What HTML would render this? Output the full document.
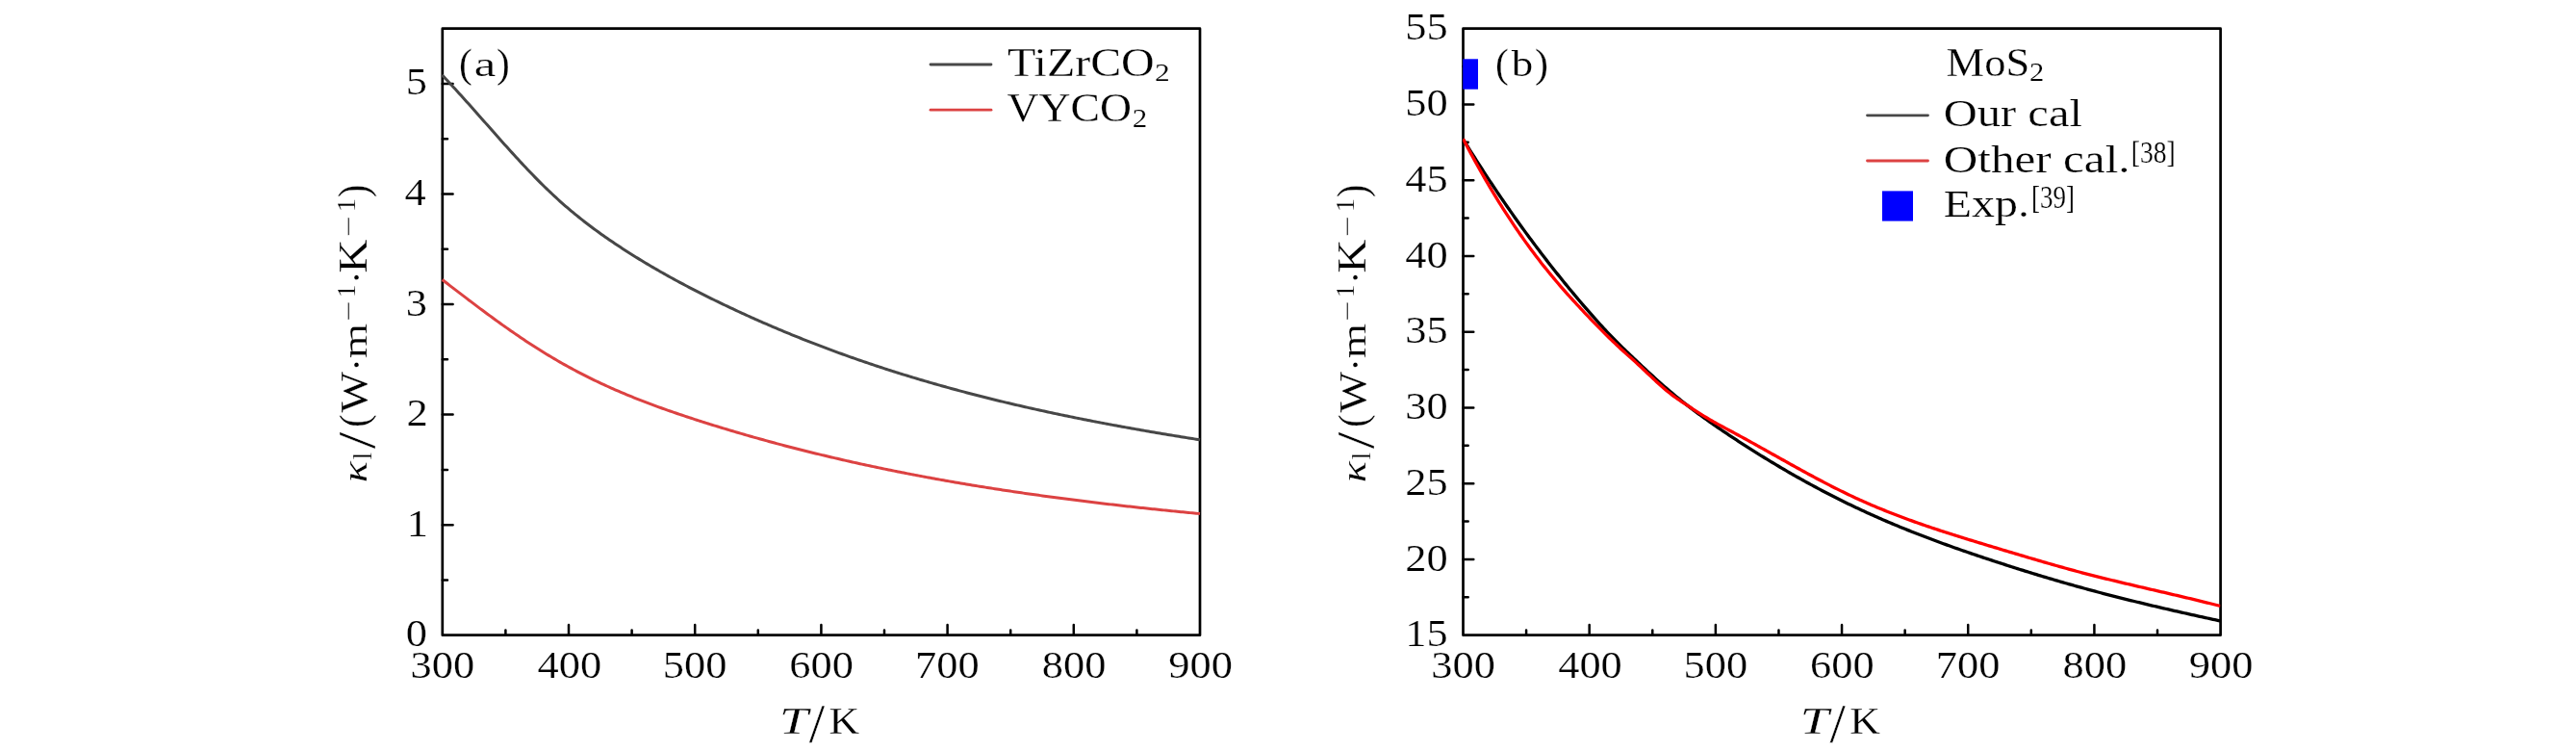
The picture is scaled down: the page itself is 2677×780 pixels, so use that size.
<!DOCTYPE html>
<html><head><meta charset="utf-8"><style>
html,body{margin:0;padding:0;background:#fff;overflow:hidden;width:2677px;height:780px;}
svg{display:block;will-change:transform;}
.t{font-family:"Liberation Serif", serif;font-size:40px;fill:#000;stroke:#fff;stroke-width:0.25px;}
</style></head><body>
<svg width="2677" height="780" viewBox="0 0 2677 780">
<rect width="100%" height="100%" fill="#fff"/>
<defs><clipPath id="cb"><rect x="1520.20" y="29.70" width="787.10" height="630.00"/></clipPath></defs>
<rect x="459.8" y="29.7" width="787.20" height="630.00" fill="none" stroke="#000" stroke-width="2.7" stroke-linejoin="round"/>
<path d="M525.40,659.7v-5.2M591.00,659.7v-10.8M656.60,659.7v-5.2M722.20,659.7v-10.8M787.80,659.7v-5.2M853.40,659.7v-10.8M919.00,659.7v-5.2M984.60,659.7v-10.8M1050.20,659.7v-5.2M1115.80,659.7v-10.8M1181.40,659.7v-5.2" stroke="#000" stroke-width="2.5" stroke-linecap="round" fill="none"/>
<text transform="translate(426.58,704.31) scale(1.1115,0.9798)" class="t">300</text>
<text transform="translate(558.47,704.31) scale(1.1115,0.9798)" class="t">400</text>
<text transform="translate(688.84,704.31) scale(1.1115,0.9798)" class="t">500</text>
<text transform="translate(820.32,704.31) scale(1.1115,0.9798)" class="t">600</text>
<text transform="translate(951.10,704.31) scale(1.1115,0.9798)" class="t">700</text>
<text transform="translate(1082.85,704.31) scale(1.1115,0.9798)" class="t">800</text>
<text transform="translate(1214.19,704.31) scale(1.1115,0.9798)" class="t">900</text>
<path d="M459.8,602.43h5.2M459.8,545.15h10.8M459.8,487.88h5.2M459.8,430.61h10.8M459.8,373.34h5.2M459.8,316.06h10.8M459.8,258.79h5.2M459.8,201.52h10.8M459.8,144.25h5.2M459.8,86.97h10.8" stroke="#000" stroke-width="2.5" stroke-linecap="round" fill="none"/>
<text transform="translate(421.64,671.36) scale(1.1115,0.9798)" class="t">0</text>
<text transform="translate(422.75,556.94) scale(1.1115,0.9798)" class="t">1</text>
<text transform="translate(422.47,442.39) scale(1.1115,0.9798)" class="t">2</text>
<text transform="translate(421.64,327.60) scale(1.1115,0.9798)" class="t">3</text>
<text transform="translate(420.53,213.18) scale(1.1115,0.9798)" class="t">4</text>
<text transform="translate(421.64,98.39) scale(1.1115,0.9798)" class="t">5</text>
<path d="M459.30,77.85 L461.27,79.91 L463.25,81.99 L465.22,84.08 L467.20,86.19 L469.17,88.31 L471.15,90.44 L473.12,92.58 L475.09,94.74 L477.07,96.90 L479.04,99.07 L481.02,101.26 L482.99,103.45 L484.96,105.64 L486.94,107.85 L488.91,110.06 L490.89,112.27 L492.86,114.49 L494.84,116.72 L496.81,118.95 L498.78,121.18 L500.76,123.41 L502.73,125.64 L504.71,127.88 L506.68,130.11 L508.65,132.35 L510.63,134.58 L512.60,136.81 L514.58,139.04 L516.55,141.27 L518.53,143.49 L520.50,145.71 L522.47,147.92 L524.45,150.13 L526.42,152.33 L528.40,154.52 L530.37,156.71 L532.34,158.88 L534.32,161.05 L536.29,163.21 L538.27,165.35 L540.24,167.49 L542.22,169.62 L544.19,171.73 L546.16,173.83 L548.14,175.91 L550.11,177.98 L552.09,180.04 L554.06,182.08 L556.04,184.10 L558.01,186.11 L559.98,188.10 L561.96,190.08 L563.93,192.03 L565.91,193.97 L567.88,195.89 L569.85,197.79 L571.83,199.67 L573.80,201.53 L575.78,203.37 L577.75,205.20 L579.73,207.00 L581.70,208.79 L583.67,210.55 L585.65,212.29 L587.62,214.01 L589.60,215.72 L591.57,217.40 L593.54,219.06 L595.52,220.71 L597.49,222.34 L599.47,223.95 L601.44,225.54 L603.42,227.11 L605.39,228.67 L607.36,230.21 L609.34,231.74 L611.31,233.25 L613.29,234.74 L615.26,236.22 L617.23,237.69 L619.21,239.14 L621.18,240.57 L623.16,242.00 L625.13,243.41 L627.11,244.80 L629.08,246.19 L631.05,247.56 L633.03,248.92 L635.00,250.27 L636.98,251.61 L638.95,252.94 L640.93,254.26 L642.90,255.57 L644.87,256.87 L646.85,258.16 L648.82,259.44 L650.80,260.71 L652.77,261.97 L654.74,263.22 L656.72,264.47 L658.69,265.71 L660.67,266.93 L662.64,268.15 L664.62,269.36 L666.59,270.57 L668.56,271.76 L670.54,272.95 L672.51,274.13 L674.49,275.30 L676.46,276.47 L678.43,277.62 L680.41,278.77 L682.38,279.91 L684.36,281.05 L686.33,282.18 L688.31,283.30 L690.28,284.41 L692.25,285.52 L694.23,286.62 L696.20,287.71 L698.18,288.80 L700.15,289.88 L702.12,290.95 L704.10,292.02 L706.07,293.08 L708.05,294.13 L710.02,295.18 L712.00,296.23 L713.97,297.27 L715.94,298.30 L717.92,299.33 L719.89,300.35 L721.87,301.36 L723.84,302.38 L725.82,303.38 L727.79,304.38 L729.76,305.38 L731.74,306.37 L733.71,307.36 L735.69,308.34 L737.66,309.32 L739.63,310.29 L741.61,311.26 L743.58,312.23 L745.56,313.19 L747.53,314.15 L749.51,315.10 L751.48,316.05 L753.45,316.99 L755.43,317.93 L757.40,318.87 L759.38,319.80 L761.35,320.73 L763.32,321.65 L765.30,322.57 L767.27,323.49 L769.25,324.40 L771.22,325.31 L773.20,326.21 L775.17,327.11 L777.14,328.00 L779.12,328.90 L781.09,329.78 L783.07,330.67 L785.04,331.55 L787.01,332.42 L788.99,333.29 L790.96,334.16 L792.94,335.03 L794.91,335.89 L796.89,336.74 L798.86,337.60 L800.83,338.44 L802.81,339.29 L804.78,340.13 L806.76,340.97 L808.73,341.80 L810.71,342.63 L812.68,343.46 L814.65,344.28 L816.63,345.10 L818.60,345.91 L820.58,346.72 L822.55,347.53 L824.52,348.33 L826.50,349.13 L828.47,349.93 L830.45,350.72 L832.42,351.51 L834.40,352.29 L836.37,353.08 L838.34,353.85 L840.32,354.63 L842.29,355.40 L844.27,356.17 L846.24,356.93 L848.21,357.69 L850.19,358.45 L852.16,359.20 L854.14,359.95 L856.11,360.70 L858.09,361.44 L860.06,362.18 L862.03,362.91 L864.01,363.65 L865.98,364.38 L867.96,365.10 L869.93,365.82 L871.90,366.54 L873.88,367.26 L875.85,367.97 L877.83,368.68 L879.80,369.38 L881.78,370.09 L883.75,370.79 L885.72,371.48 L887.70,372.17 L889.67,372.86 L891.65,373.55 L893.62,374.23 L895.59,374.91 L897.57,375.59 L899.54,376.26 L901.52,376.93 L903.49,377.60 L905.47,378.26 L907.44,378.92 L909.41,379.58 L911.39,380.23 L913.36,380.88 L915.34,381.53 L917.31,382.17 L919.29,382.82 L921.26,383.45 L923.23,384.09 L925.21,384.72 L927.18,385.35 L929.16,385.98 L931.13,386.60 L933.10,387.22 L935.08,387.84 L937.05,388.45 L939.03,389.07 L941.00,389.68 L942.98,390.28 L944.95,390.88 L946.92,391.48 L948.90,392.08 L950.87,392.68 L952.85,393.27 L954.82,393.86 L956.79,394.44 L958.77,395.02 L960.74,395.60 L962.72,396.18 L964.69,396.76 L966.67,397.33 L968.64,397.90 L970.61,398.46 L972.59,399.03 L974.56,399.59 L976.54,400.15 L978.51,400.70 L980.48,401.26 L982.46,401.81 L984.43,402.35 L986.41,402.90 L988.38,403.44 L990.36,403.98 L992.33,404.52 L994.30,405.05 L996.28,405.59 L998.25,406.11 L1000.23,406.64 L1002.20,407.17 L1004.18,407.69 L1006.15,408.21 L1008.12,408.72 L1010.10,409.24 L1012.07,409.75 L1014.05,410.26 L1016.02,410.77 L1017.99,411.27 L1019.97,411.77 L1021.94,412.27 L1023.92,412.77 L1025.89,413.27 L1027.87,413.76 L1029.84,414.25 L1031.81,414.74 L1033.79,415.22 L1035.76,415.71 L1037.74,416.19 L1039.71,416.67 L1041.68,417.15 L1043.66,417.62 L1045.63,418.09 L1047.61,418.56 L1049.58,419.03 L1051.56,419.49 L1053.53,419.96 L1055.50,420.42 L1057.48,420.88 L1059.45,421.33 L1061.43,421.79 L1063.40,422.24 L1065.37,422.69 L1067.35,423.14 L1069.32,423.59 L1071.30,424.03 L1073.27,424.47 L1075.25,424.91 L1077.22,425.35 L1079.19,425.79 L1081.17,426.22 L1083.14,426.65 L1085.12,427.08 L1087.09,427.51 L1089.07,427.94 L1091.04,428.36 L1093.01,428.78 L1094.99,429.20 L1096.96,429.62 L1098.94,430.04 L1100.91,430.45 L1102.88,430.87 L1104.86,431.28 L1106.83,431.69 L1108.81,432.09 L1110.78,432.50 L1112.76,432.90 L1114.73,433.30 L1116.70,433.70 L1118.68,434.10 L1120.65,434.50 L1122.63,434.89 L1124.60,435.29 L1126.57,435.68 L1128.55,436.07 L1130.52,436.46 L1132.50,436.84 L1134.47,437.23 L1136.45,437.61 L1138.42,437.99 L1140.39,438.37 L1142.37,438.75 L1144.34,439.13 L1146.32,439.50 L1148.29,439.87 L1150.26,440.25 L1152.24,440.62 L1154.21,440.98 L1156.19,441.35 L1158.16,441.72 L1160.14,442.08 L1162.11,442.44 L1164.08,442.80 L1166.06,443.16 L1168.03,443.52 L1170.01,443.88 L1171.98,444.24 L1173.96,444.59 L1175.93,444.94 L1177.90,445.29 L1179.88,445.64 L1181.85,445.99 L1183.83,446.34 L1185.80,446.69 L1187.77,447.03 L1189.75,447.37 L1191.72,447.71 L1193.70,448.06 L1195.67,448.40 L1197.65,448.73 L1199.62,449.07 L1201.59,449.41 L1203.57,449.74 L1205.54,450.07 L1207.52,450.41 L1209.49,450.74 L1211.46,451.07 L1213.44,451.40 L1215.41,451.72 L1217.39,452.05 L1219.36,452.38 L1221.34,452.70 L1223.31,453.02 L1225.28,453.34 L1227.26,453.67 L1229.23,453.99 L1231.21,454.30 L1233.18,454.62 L1235.15,454.94 L1237.13,455.26 L1239.10,455.57 L1241.08,455.88 L1243.05,456.20 L1245.03,456.51 L1247.00,456.82" stroke="#474747" stroke-width="3.0" fill="none" stroke-linejoin="round"/>
<path d="M459.60,290.48 L461.57,292.00 L463.55,293.53 L465.52,295.05 L467.49,296.57 L469.47,298.09 L471.44,299.61 L473.41,301.13 L475.39,302.65 L477.36,304.16 L479.33,305.67 L481.31,307.17 L483.28,308.68 L485.25,310.18 L487.23,311.68 L489.20,313.17 L491.17,314.66 L493.15,316.15 L495.12,317.63 L497.10,319.10 L499.07,320.58 L501.04,322.05 L503.02,323.51 L504.99,324.97 L506.96,326.42 L508.94,327.87 L510.91,329.32 L512.88,330.75 L514.86,332.18 L516.83,333.61 L518.80,335.03 L520.78,336.44 L522.75,337.85 L524.72,339.25 L526.70,340.64 L528.67,342.02 L530.64,343.40 L532.62,344.77 L534.59,346.14 L536.56,347.49 L538.54,348.84 L540.51,350.18 L542.48,351.51 L544.46,352.83 L546.43,354.14 L548.40,355.44 L550.38,356.74 L552.35,358.02 L554.32,359.30 L556.30,360.57 L558.27,361.82 L560.25,363.07 L562.22,364.30 L564.19,365.53 L566.17,366.74 L568.14,367.95 L570.11,369.14 L572.09,370.33 L574.06,371.50 L576.03,372.66 L578.01,373.81 L579.98,374.96 L581.95,376.09 L583.93,377.21 L585.90,378.32 L587.87,379.42 L589.85,380.52 L591.82,381.60 L593.79,382.67 L595.77,383.73 L597.74,384.78 L599.71,385.83 L601.69,386.86 L603.66,387.88 L605.63,388.90 L607.61,389.90 L609.58,390.90 L611.55,391.88 L613.53,392.86 L615.50,393.83 L617.47,394.78 L619.45,395.73 L621.42,396.67 L623.39,397.61 L625.37,398.53 L627.34,399.44 L629.32,400.35 L631.29,401.25 L633.26,402.14 L635.24,403.02 L637.21,403.90 L639.18,404.76 L641.16,405.62 L643.13,406.47 L645.10,407.32 L647.08,408.15 L649.05,408.98 L651.02,409.81 L653.00,410.62 L654.97,411.43 L656.94,412.23 L658.92,413.03 L660.89,413.81 L662.86,414.60 L664.84,415.37 L666.81,416.14 L668.78,416.90 L670.76,417.66 L672.73,418.41 L674.70,419.16 L676.68,419.90 L678.65,420.63 L680.62,421.36 L682.60,422.08 L684.57,422.80 L686.54,423.51 L688.52,424.22 L690.49,424.92 L692.47,425.62 L694.44,426.31 L696.41,427.00 L698.39,427.69 L700.36,428.36 L702.33,429.04 L704.31,429.71 L706.28,430.38 L708.25,431.04 L710.23,431.70 L712.20,432.36 L714.17,433.01 L716.15,433.66 L718.12,434.30 L720.09,434.94 L722.07,435.58 L724.04,436.22 L726.01,436.85 L727.99,437.48 L729.96,438.11 L731.93,438.73 L733.91,439.35 L735.88,439.97 L737.85,440.59 L739.83,441.20 L741.80,441.81 L743.77,442.42 L745.75,443.03 L747.72,443.63 L749.69,444.23 L751.67,444.83 L753.64,445.43 L755.62,446.02 L757.59,446.61 L759.56,447.20 L761.54,447.79 L763.51,448.37 L765.48,448.95 L767.46,449.53 L769.43,450.10 L771.40,450.68 L773.38,451.25 L775.35,451.82 L777.32,452.38 L779.30,452.95 L781.27,453.51 L783.24,454.07 L785.22,454.62 L787.19,455.18 L789.16,455.73 L791.14,456.28 L793.11,456.82 L795.08,457.37 L797.06,457.91 L799.03,458.45 L801.00,458.98 L802.98,459.52 L804.95,460.05 L806.92,460.58 L808.90,461.11 L810.87,461.63 L812.84,462.16 L814.82,462.68 L816.79,463.19 L818.76,463.71 L820.74,464.22 L822.71,464.73 L824.69,465.24 L826.66,465.75 L828.63,466.25 L830.61,466.76 L832.58,467.26 L834.55,467.75 L836.53,468.25 L838.50,468.74 L840.47,469.23 L842.45,469.72 L844.42,470.21 L846.39,470.69 L848.37,471.17 L850.34,471.65 L852.31,472.13 L854.29,472.61 L856.26,473.08 L858.23,473.55 L860.21,474.02 L862.18,474.49 L864.15,474.95 L866.13,475.41 L868.10,475.87 L870.07,476.33 L872.05,476.79 L874.02,477.24 L875.99,477.69 L877.97,478.14 L879.94,478.59 L881.91,479.04 L883.89,479.48 L885.86,479.92 L887.84,480.36 L889.81,480.80 L891.78,481.23 L893.76,481.67 L895.73,482.10 L897.70,482.53 L899.68,482.96 L901.65,483.38 L903.62,483.80 L905.60,484.23 L907.57,484.64 L909.54,485.06 L911.52,485.48 L913.49,485.89 L915.46,486.30 L917.44,486.71 L919.41,487.12 L921.38,487.52 L923.36,487.93 L925.33,488.33 L927.30,488.73 L929.28,489.13 L931.25,489.52 L933.22,489.92 L935.20,490.31 L937.17,490.70 L939.14,491.09 L941.12,491.48 L943.09,491.86 L945.06,492.24 L947.04,492.63 L949.01,493.00 L950.98,493.38 L952.96,493.76 L954.93,494.13 L956.91,494.50 L958.88,494.87 L960.85,495.24 L962.83,495.61 L964.80,495.97 L966.77,496.34 L968.75,496.70 L970.72,497.06 L972.69,497.42 L974.67,497.77 L976.64,498.13 L978.61,498.48 L980.59,498.83 L982.56,499.18 L984.53,499.53 L986.51,499.87 L988.48,500.22 L990.45,500.56 L992.43,500.90 L994.40,501.24 L996.37,501.58 L998.35,501.92 L1000.32,502.25 L1002.29,502.58 L1004.27,502.91 L1006.24,503.24 L1008.21,503.57 L1010.19,503.90 L1012.16,504.22 L1014.13,504.54 L1016.11,504.87 L1018.08,505.19 L1020.06,505.50 L1022.03,505.82 L1024.00,506.14 L1025.98,506.45 L1027.95,506.76 L1029.92,507.07 L1031.90,507.38 L1033.87,507.69 L1035.84,508.00 L1037.82,508.30 L1039.79,508.60 L1041.76,508.90 L1043.74,509.20 L1045.71,509.50 L1047.68,509.80 L1049.66,510.10 L1051.63,510.39 L1053.60,510.68 L1055.58,510.97 L1057.55,511.26 L1059.52,511.55 L1061.50,511.84 L1063.47,512.13 L1065.44,512.41 L1067.42,512.69 L1069.39,512.97 L1071.36,513.25 L1073.34,513.53 L1075.31,513.81 L1077.28,514.09 L1079.26,514.36 L1081.23,514.63 L1083.21,514.91 L1085.18,515.18 L1087.15,515.45 L1089.13,515.71 L1091.10,515.98 L1093.07,516.25 L1095.05,516.51 L1097.02,516.77 L1098.99,517.04 L1100.97,517.30 L1102.94,517.56 L1104.91,517.81 L1106.89,518.07 L1108.86,518.33 L1110.83,518.58 L1112.81,518.83 L1114.78,519.08 L1116.75,519.33 L1118.73,519.58 L1120.70,519.83 L1122.67,520.08 L1124.65,520.32 L1126.62,520.57 L1128.59,520.81 L1130.57,521.05 L1132.54,521.30 L1134.51,521.54 L1136.49,521.77 L1138.46,522.01 L1140.43,522.25 L1142.41,522.48 L1144.38,522.72 L1146.35,522.95 L1148.33,523.18 L1150.30,523.41 L1152.28,523.64 L1154.25,523.87 L1156.22,524.10 L1158.20,524.33 L1160.17,524.55 L1162.14,524.78 L1164.12,525.00 L1166.09,525.22 L1168.06,525.45 L1170.04,525.67 L1172.01,525.89 L1173.98,526.10 L1175.96,526.32 L1177.93,526.54 L1179.90,526.75 L1181.88,526.97 L1183.85,527.18 L1185.82,527.40 L1187.80,527.61 L1189.77,527.82 L1191.74,528.03 L1193.72,528.24 L1195.69,528.45 L1197.66,528.65 L1199.64,528.86 L1201.61,529.06 L1203.58,529.27 L1205.56,529.47 L1207.53,529.67 L1209.50,529.88 L1211.48,530.08 L1213.45,530.28 L1215.43,530.48 L1217.40,530.68 L1219.37,530.87 L1221.35,531.07 L1223.32,531.27 L1225.29,531.46 L1227.27,531.66 L1229.24,531.85 L1231.21,532.04 L1233.19,532.23 L1235.16,532.43 L1237.13,532.62 L1239.11,532.81 L1241.08,532.99 L1243.05,533.18 L1245.03,533.37 L1247.00,533.56" stroke="#dc4242" stroke-width="3.0" fill="none" stroke-linejoin="round"/>
<rect x="1520.5" y="29.7" width="787.10" height="630.00" fill="none" stroke="#000" stroke-width="2.7" stroke-linejoin="round"/>
<path d="M1586.09,659.7v-5.2M1651.68,659.7v-10.8M1717.28,659.7v-5.2M1782.87,659.7v-10.8M1848.46,659.7v-5.2M1914.05,659.7v-10.8M1979.64,659.7v-5.2M2045.23,659.7v-10.8M2110.82,659.7v-5.2M2176.42,659.7v-10.8M2242.01,659.7v-5.2" stroke="#000" stroke-width="2.5" stroke-linecap="round" fill="none"/>
<text transform="translate(1487.28,704.31) scale(1.1115,0.9798)" class="t">300</text>
<text transform="translate(1619.16,704.31) scale(1.1115,0.9798)" class="t">400</text>
<text transform="translate(1749.50,704.31) scale(1.1115,0.9798)" class="t">500</text>
<text transform="translate(1880.97,704.31) scale(1.1115,0.9798)" class="t">600</text>
<text transform="translate(2011.73,704.31) scale(1.1115,0.9798)" class="t">700</text>
<text transform="translate(2143.47,704.31) scale(1.1115,0.9798)" class="t">800</text>
<text transform="translate(2274.79,704.31) scale(1.1115,0.9798)" class="t">900</text>
<path d="M1520.5,620.33h5.2M1520.5,580.95h10.8M1520.5,541.58h5.2M1520.5,502.20h10.8M1520.5,462.83h5.2M1520.5,423.45h10.8M1520.5,384.08h5.2M1520.5,344.70h10.8M1520.5,305.33h5.2M1520.5,265.95h10.8M1520.5,226.58h5.2M1520.5,187.20h10.8M1520.5,147.83h5.2M1520.5,108.45h10.8M1520.5,69.08h5.2" stroke="#000" stroke-width="2.5" stroke-linecap="round" fill="none"/>
<text transform="translate(1460.21,671.24) scale(1.1115,0.9798)" class="t">15</text>
<text transform="translate(1460.21,592.61) scale(1.1115,0.9798)" class="t">20</text>
<text transform="translate(1460.21,513.74) scale(1.1115,0.9798)" class="t">25</text>
<text transform="translate(1460.21,435.11) scale(1.1115,0.9798)" class="t">30</text>
<text transform="translate(1460.21,356.24) scale(1.1115,0.9798)" class="t">35</text>
<text transform="translate(1460.21,277.61) scale(1.1115,0.9798)" class="t">40</text>
<text transform="translate(1460.21,198.62) scale(1.1115,0.9798)" class="t">45</text>
<text transform="translate(1460.21,120.11) scale(1.1115,0.9798)" class="t">50</text>
<text transform="translate(1460.21,41.12) scale(1.1115,0.9798)" class="t">55</text>
<g clip-path="url(#cb)">
<path d="M1520.50,144.59 L1522.47,147.78 L1524.45,150.95 L1526.42,154.11 L1528.39,157.26 L1530.36,160.38 L1532.34,163.49 L1534.31,166.59 L1536.28,169.67 L1538.25,172.73 L1540.23,175.77 L1542.20,178.80 L1544.17,181.82 L1546.14,184.82 L1548.12,187.80 L1550.09,190.77 L1552.06,193.72 L1554.04,196.66 L1556.01,199.58 L1557.98,202.48 L1559.95,205.37 L1561.93,208.25 L1563.90,211.11 L1565.87,213.95 L1567.84,216.78 L1569.82,219.60 L1571.79,222.40 L1573.76,225.19 L1575.74,227.96 L1577.71,230.71 L1579.68,233.46 L1581.65,236.18 L1583.63,238.90 L1585.60,241.60 L1587.57,244.28 L1589.54,246.95 L1591.52,249.61 L1593.49,252.25 L1595.46,254.88 L1597.43,257.50 L1599.41,260.10 L1601.38,262.69 L1603.35,265.26 L1605.33,267.83 L1607.30,270.37 L1609.27,272.91 L1611.24,275.43 L1613.22,277.94 L1615.19,280.43 L1617.16,282.91 L1619.13,285.38 L1621.11,287.84 L1623.08,290.28 L1625.05,292.71 L1627.02,295.13 L1629.00,297.54 L1630.97,299.93 L1632.94,302.31 L1634.92,304.68 L1636.89,307.04 L1638.86,309.38 L1640.83,311.71 L1642.81,314.03 L1644.78,316.34 L1646.75,318.63 L1648.72,320.92 L1650.70,323.19 L1652.67,325.45 L1654.64,327.70 L1656.62,329.93 L1658.59,332.15 L1660.56,334.35 L1662.53,336.53 L1664.51,338.70 L1666.48,340.84 L1668.45,342.97 L1670.42,345.07 L1672.40,347.15 L1674.37,349.21 L1676.34,351.24 L1678.31,353.25 L1680.29,355.23 L1682.26,357.20 L1684.23,359.14 L1686.21,361.07 L1688.18,362.99 L1690.15,364.89 L1692.12,366.79 L1694.10,368.67 L1696.07,370.54 L1698.04,372.41 L1700.01,374.28 L1701.99,376.14 L1703.96,378.00 L1705.93,379.85 L1707.90,381.69 L1709.88,383.53 L1711.85,385.36 L1713.82,387.18 L1715.80,389.00 L1717.77,390.80 L1719.74,392.60 L1721.71,394.38 L1723.69,396.15 L1725.66,397.91 L1727.63,399.65 L1729.60,401.38 L1731.58,403.09 L1733.55,404.79 L1735.52,406.47 L1737.49,408.13 L1739.47,409.78 L1741.44,411.41 L1743.41,413.02 L1745.39,414.62 L1747.36,416.20 L1749.33,417.77 L1751.30,419.32 L1753.28,420.86 L1755.25,422.38 L1757.22,423.89 L1759.19,425.39 L1761.17,426.87 L1763.14,428.34 L1765.11,429.80 L1767.09,431.25 L1769.06,432.68 L1771.03,434.11 L1773.00,435.52 L1774.98,436.93 L1776.95,438.32 L1778.92,439.70 L1780.89,441.08 L1782.87,442.44 L1784.84,443.80 L1786.81,445.15 L1788.78,446.49 L1790.76,447.83 L1792.73,449.15 L1794.70,450.47 L1796.68,451.79 L1798.65,453.10 L1800.62,454.40 L1802.59,455.69 L1804.57,456.99 L1806.54,458.27 L1808.51,459.55 L1810.48,460.83 L1812.46,462.10 L1814.43,463.37 L1816.40,464.63 L1818.37,465.88 L1820.35,467.13 L1822.32,468.37 L1824.29,469.61 L1826.27,470.84 L1828.24,472.07 L1830.21,473.29 L1832.18,474.51 L1834.16,475.72 L1836.13,476.92 L1838.10,478.12 L1840.07,479.32 L1842.05,480.51 L1844.02,481.69 L1845.99,482.87 L1847.97,484.04 L1849.94,485.21 L1851.91,486.37 L1853.88,487.52 L1855.86,488.67 L1857.83,489.82 L1859.80,490.95 L1861.77,492.09 L1863.75,493.21 L1865.72,494.34 L1867.69,495.45 L1869.66,496.56 L1871.64,497.67 L1873.61,498.76 L1875.58,499.86 L1877.56,500.95 L1879.53,502.03 L1881.50,503.10 L1883.47,504.17 L1885.45,505.24 L1887.42,506.30 L1889.39,507.35 L1891.36,508.40 L1893.34,509.44 L1895.31,510.47 L1897.28,511.50 L1899.25,512.52 L1901.23,513.54 L1903.20,514.55 L1905.17,515.56 L1907.15,516.56 L1909.12,517.56 L1911.09,518.54 L1913.06,519.53 L1915.04,520.50 L1917.01,521.47 L1918.98,522.44 L1920.95,523.40 L1922.93,524.35 L1924.90,525.30 L1926.87,526.24 L1928.85,527.17 L1930.82,528.10 L1932.79,529.02 L1934.76,529.94 L1936.74,530.85 L1938.71,531.76 L1940.68,532.66 L1942.65,533.55 L1944.63,534.44 L1946.60,535.33 L1948.57,536.21 L1950.54,537.08 L1952.52,537.95 L1954.49,538.81 L1956.46,539.67 L1958.44,540.52 L1960.41,541.37 L1962.38,542.21 L1964.35,543.05 L1966.33,543.88 L1968.30,544.70 L1970.27,545.53 L1972.24,546.35 L1974.22,547.16 L1976.19,547.97 L1978.16,548.77 L1980.13,549.57 L1982.11,550.36 L1984.08,551.15 L1986.05,551.94 L1988.03,552.72 L1990.00,553.50 L1991.97,554.27 L1993.94,555.04 L1995.92,555.81 L1997.89,556.57 L1999.86,557.32 L2001.83,558.08 L2003.81,558.82 L2005.78,559.57 L2007.75,560.31 L2009.73,561.05 L2011.70,561.78 L2013.67,562.51 L2015.64,563.24 L2017.62,563.96 L2019.59,564.68 L2021.56,565.40 L2023.53,566.11 L2025.51,566.82 L2027.48,567.52 L2029.45,568.23 L2031.42,568.93 L2033.40,569.62 L2035.37,570.32 L2037.34,571.01 L2039.32,571.69 L2041.29,572.38 L2043.26,573.06 L2045.23,573.74 L2047.21,574.42 L2049.18,575.09 L2051.15,575.76 L2053.12,576.43 L2055.10,577.09 L2057.07,577.76 L2059.04,578.42 L2061.01,579.08 L2062.99,579.73 L2064.96,580.39 L2066.93,581.04 L2068.91,581.69 L2070.88,582.34 L2072.85,582.98 L2074.82,583.63 L2076.80,584.27 L2078.77,584.91 L2080.74,585.54 L2082.71,586.18 L2084.69,586.81 L2086.66,587.45 L2088.63,588.08 L2090.61,588.71 L2092.58,589.33 L2094.55,589.96 L2096.52,590.58 L2098.50,591.20 L2100.47,591.82 L2102.44,592.44 L2104.41,593.05 L2106.39,593.66 L2108.36,594.27 L2110.33,594.88 L2112.30,595.49 L2114.28,596.09 L2116.25,596.70 L2118.22,597.30 L2120.20,597.89 L2122.17,598.49 L2124.14,599.08 L2126.11,599.67 L2128.09,600.26 L2130.06,600.85 L2132.03,601.43 L2134.00,602.02 L2135.98,602.59 L2137.95,603.17 L2139.92,603.75 L2141.89,604.32 L2143.87,604.89 L2145.84,605.46 L2147.81,606.02 L2149.79,606.58 L2151.76,607.14 L2153.73,607.70 L2155.70,608.26 L2157.68,608.81 L2159.65,609.36 L2161.62,609.91 L2163.59,610.45 L2165.57,610.99 L2167.54,611.53 L2169.51,612.07 L2171.48,612.60 L2173.46,613.14 L2175.43,613.67 L2177.40,614.19 L2179.38,614.72 L2181.35,615.24 L2183.32,615.76 L2185.29,616.28 L2187.27,616.79 L2189.24,617.31 L2191.21,617.82 L2193.18,618.33 L2195.16,618.83 L2197.13,619.34 L2199.10,619.84 L2201.08,620.34 L2203.05,620.84 L2205.02,621.34 L2206.99,621.83 L2208.97,622.32 L2210.94,622.81 L2212.91,623.30 L2214.88,623.79 L2216.86,624.27 L2218.83,624.76 L2220.80,625.24 L2222.77,625.72 L2224.75,626.19 L2226.72,626.67 L2228.69,627.14 L2230.67,627.62 L2232.64,628.09 L2234.61,628.56 L2236.58,629.02 L2238.56,629.49 L2240.53,629.95 L2242.50,630.42 L2244.47,630.88 L2246.45,631.34 L2248.42,631.80 L2250.39,632.25 L2252.36,632.71 L2254.34,633.16 L2256.31,633.62 L2258.28,634.07 L2260.26,634.52 L2262.23,634.97 L2264.20,635.41 L2266.17,635.86 L2268.15,636.31 L2270.12,636.75 L2272.09,637.19 L2274.06,637.64 L2276.04,638.08 L2278.01,638.52 L2279.98,638.96 L2281.96,639.39 L2283.93,639.83 L2285.90,640.27 L2287.87,640.70 L2289.85,641.14 L2291.82,641.57 L2293.79,642.00 L2295.76,642.43 L2297.74,642.86 L2299.71,643.29 L2301.68,643.72 L2303.65,644.15 L2305.63,644.58 L2307.60,645.01" stroke="#000" stroke-width="3.3" fill="none" stroke-linejoin="round"/>
<path d="M1520.50,144.32 L1522.47,148.09 L1524.45,151.82 L1526.42,155.52 L1528.39,159.19 L1530.36,162.82 L1532.34,166.42 L1534.31,169.99 L1536.28,173.52 L1538.25,177.02 L1540.23,180.49 L1542.20,183.92 L1544.17,187.33 L1546.14,190.70 L1548.12,194.04 L1550.09,197.35 L1552.06,200.62 L1554.04,203.87 L1556.01,207.08 L1557.98,210.26 L1559.95,213.41 L1561.93,216.53 L1563.90,219.62 L1565.87,222.68 L1567.84,225.71 L1569.82,228.70 L1571.79,231.67 L1573.76,234.61 L1575.74,237.51 L1577.71,240.39 L1579.68,243.24 L1581.65,246.06 L1583.63,248.84 L1585.60,251.60 L1587.57,254.33 L1589.54,257.04 L1591.52,259.71 L1593.49,262.35 L1595.46,264.97 L1597.43,267.55 L1599.41,270.11 L1601.38,272.64 L1603.35,275.15 L1605.33,277.62 L1607.30,280.07 L1609.27,282.50 L1611.24,284.90 L1613.22,287.28 L1615.19,289.63 L1617.16,291.96 L1619.13,294.27 L1621.11,296.56 L1623.08,298.83 L1625.05,301.08 L1627.02,303.31 L1629.00,305.53 L1630.97,307.73 L1632.94,309.91 L1634.92,312.07 L1636.89,314.22 L1638.86,316.36 L1640.83,318.48 L1642.81,320.60 L1644.78,322.70 L1646.75,324.79 L1648.72,326.87 L1650.70,328.93 L1652.67,331.00 L1654.64,333.05 L1656.62,335.09 L1658.59,337.12 L1660.56,339.14 L1662.53,341.14 L1664.51,343.13 L1666.48,345.11 L1668.45,347.08 L1670.42,349.03 L1672.40,350.97 L1674.37,352.89 L1676.34,354.79 L1678.31,356.68 L1680.29,358.55 L1682.26,360.40 L1684.23,362.23 L1686.21,364.05 L1688.18,365.84 L1690.15,367.61 L1692.12,369.36 L1694.10,371.11 L1696.07,372.85 L1698.04,374.60 L1700.01,376.37 L1701.99,378.17 L1703.96,379.99 L1705.93,381.83 L1707.90,383.69 L1709.88,385.56 L1711.85,387.43 L1713.82,389.30 L1715.80,391.17 L1717.77,393.03 L1719.74,394.88 L1721.71,396.70 L1723.69,398.51 L1725.66,400.29 L1727.63,402.03 L1729.60,403.74 L1731.58,405.40 L1733.55,407.02 L1735.52,408.58 L1737.49,410.10 L1739.47,411.56 L1741.44,412.98 L1743.41,414.37 L1745.39,415.72 L1747.36,417.05 L1749.33,418.36 L1751.30,419.65 L1753.28,420.93 L1755.25,422.21 L1757.22,423.50 L1759.19,424.78 L1761.17,426.05 L1763.14,427.32 L1765.11,428.59 L1767.09,429.84 L1769.06,431.08 L1771.03,432.30 L1773.00,433.50 L1774.98,434.69 L1776.95,435.85 L1778.92,436.99 L1780.89,438.12 L1782.87,439.23 L1784.84,440.32 L1786.81,441.40 L1788.78,442.47 L1790.76,443.54 L1792.73,444.60 L1794.70,445.65 L1796.68,446.71 L1798.65,447.76 L1800.62,448.82 L1802.59,449.88 L1804.57,450.94 L1806.54,452.01 L1808.51,453.09 L1810.48,454.16 L1812.46,455.24 L1814.43,456.32 L1816.40,457.41 L1818.37,458.50 L1820.35,459.59 L1822.32,460.68 L1824.29,461.78 L1826.27,462.87 L1828.24,463.97 L1830.21,465.07 L1832.18,466.17 L1834.16,467.28 L1836.13,468.38 L1838.10,469.48 L1840.07,470.59 L1842.05,471.69 L1844.02,472.79 L1845.99,473.90 L1847.97,475.00 L1849.94,476.10 L1851.91,477.21 L1853.88,478.31 L1855.86,479.41 L1857.83,480.51 L1859.80,481.60 L1861.77,482.70 L1863.75,483.79 L1865.72,484.88 L1867.69,485.97 L1869.66,487.06 L1871.64,488.14 L1873.61,489.22 L1875.58,490.30 L1877.56,491.37 L1879.53,492.44 L1881.50,493.50 L1883.47,494.57 L1885.45,495.62 L1887.42,496.68 L1889.39,497.72 L1891.36,498.77 L1893.34,499.80 L1895.31,500.84 L1897.28,501.87 L1899.25,502.89 L1901.23,503.90 L1903.20,504.91 L1905.17,505.92 L1907.15,506.91 L1909.12,507.90 L1911.09,508.89 L1913.06,509.86 L1915.04,510.83 L1917.01,511.79 L1918.98,512.75 L1920.95,513.69 L1922.93,514.63 L1924.90,515.56 L1926.87,516.48 L1928.85,517.39 L1930.82,518.30 L1932.79,519.19 L1934.76,520.08 L1936.74,520.96 L1938.71,521.83 L1940.68,522.69 L1942.65,523.55 L1944.63,524.40 L1946.60,525.24 L1948.57,526.07 L1950.54,526.90 L1952.52,527.72 L1954.49,528.53 L1956.46,529.34 L1958.44,530.14 L1960.41,530.93 L1962.38,531.72 L1964.35,532.49 L1966.33,533.27 L1968.30,534.03 L1970.27,534.79 L1972.24,535.55 L1974.22,536.30 L1976.19,537.04 L1978.16,537.78 L1980.13,538.51 L1982.11,539.23 L1984.08,539.96 L1986.05,540.67 L1988.03,541.38 L1990.00,542.09 L1991.97,542.79 L1993.94,543.48 L1995.92,544.17 L1997.89,544.86 L1999.86,545.54 L2001.83,546.22 L2003.81,546.89 L2005.78,547.56 L2007.75,548.22 L2009.73,548.88 L2011.70,549.54 L2013.67,550.19 L2015.64,550.84 L2017.62,551.49 L2019.59,552.13 L2021.56,552.77 L2023.53,553.41 L2025.51,554.04 L2027.48,554.67 L2029.45,555.30 L2031.42,555.92 L2033.40,556.54 L2035.37,557.16 L2037.34,557.78 L2039.32,558.40 L2041.29,559.01 L2043.26,559.62 L2045.23,560.23 L2047.21,560.83 L2049.18,561.44 L2051.15,562.04 L2053.12,562.64 L2055.10,563.24 L2057.07,563.84 L2059.04,564.44 L2061.01,565.04 L2062.99,565.63 L2064.96,566.23 L2066.93,566.82 L2068.91,567.41 L2070.88,568.01 L2072.85,568.60 L2074.82,569.19 L2076.80,569.78 L2078.77,570.37 L2080.74,570.96 L2082.71,571.56 L2084.69,572.15 L2086.66,572.74 L2088.63,573.33 L2090.61,573.92 L2092.58,574.51 L2094.55,575.10 L2096.52,575.69 L2098.50,576.28 L2100.47,576.87 L2102.44,577.45 L2104.41,578.04 L2106.39,578.62 L2108.36,579.21 L2110.33,579.79 L2112.30,580.37 L2114.28,580.95 L2116.25,581.53 L2118.22,582.11 L2120.20,582.68 L2122.17,583.26 L2124.14,583.83 L2126.11,584.40 L2128.09,584.97 L2130.06,585.54 L2132.03,586.10 L2134.00,586.67 L2135.98,587.23 L2137.95,587.78 L2139.92,588.34 L2141.89,588.89 L2143.87,589.44 L2145.84,589.99 L2147.81,590.53 L2149.79,591.08 L2151.76,591.62 L2153.73,592.15 L2155.70,592.69 L2157.68,593.22 L2159.65,593.74 L2161.62,594.27 L2163.59,594.79 L2165.57,595.30 L2167.54,595.82 L2169.51,596.33 L2171.48,596.84 L2173.46,597.34 L2175.43,597.84 L2177.40,598.34 L2179.38,598.84 L2181.35,599.33 L2183.32,599.83 L2185.29,600.32 L2187.27,600.80 L2189.24,601.29 L2191.21,601.77 L2193.18,602.25 L2195.16,602.73 L2197.13,603.21 L2199.10,603.68 L2201.08,604.16 L2203.05,604.63 L2205.02,605.10 L2206.99,605.57 L2208.97,606.04 L2210.94,606.50 L2212.91,606.97 L2214.88,607.43 L2216.86,607.89 L2218.83,608.36 L2220.80,608.82 L2222.77,609.28 L2224.75,609.74 L2226.72,610.20 L2228.69,610.66 L2230.67,611.11 L2232.64,611.57 L2234.61,612.03 L2236.58,612.49 L2238.56,612.94 L2240.53,613.40 L2242.50,613.86 L2244.47,614.31 L2246.45,614.77 L2248.42,615.23 L2250.39,615.69 L2252.36,616.15 L2254.34,616.60 L2256.31,617.06 L2258.28,617.52 L2260.26,617.99 L2262.23,618.45 L2264.20,618.91 L2266.17,619.37 L2268.15,619.84 L2270.12,620.31 L2272.09,620.77 L2274.06,621.24 L2276.04,621.71 L2278.01,622.19 L2279.98,622.66 L2281.96,623.13 L2283.93,623.61 L2285.90,624.09 L2287.87,624.57 L2289.85,625.05 L2291.82,625.54 L2293.79,626.03 L2295.76,626.52 L2297.74,627.01 L2299.71,627.50 L2301.68,628.00 L2303.65,628.50 L2305.63,629.00 L2307.60,629.51" stroke="#ff0000" stroke-width="3.3" fill="none" stroke-linejoin="round"/>
<rect x="1504" y="61.3" width="32" height="31.4" fill="#0000ff"/>
</g>
<text transform="translate(476.99,79.53) scale(1.0341,1.0786)" class="t">(</text>
<text transform="translate(492.79,78.75) scale(1.2762,0.9039)" class="t">a</text>
<text transform="translate(516.01,79.53) scale(1.0341,1.0786)" class="t">)</text>
<text transform="translate(1554.09,79.53) scale(1.0341,1.0786)" class="t">(</text>
<text transform="translate(1570.80,78.72) scale(1.1243,0.9664)" class="t">b</text>
<text transform="translate(1594.88,79.53) scale(1.0537,1.0786)" class="t">)</text>
<text transform="translate(1047.00,79.28) scale(1.1984,1.0370)" class="t">TiZrCO</text>
<text transform="translate(1199.92,84.20) scale(0.7875,0.6113)" class="t">2</text>
<text transform="translate(1046.53,126.31) scale(1.1425,1.0495)" class="t">VYCO</text>
<text transform="translate(1176.84,131.80) scale(0.7750,0.6717)" class="t">2</text>
<text transform="translate(2022.61,79.23) scale(1.1135,1.0426)" class="t">MoS</text>
<text transform="translate(2108.97,83.90) scale(0.7625,0.6642)" class="t">2</text>
<text transform="translate(2019.78,131.11) scale(1.2129,0.9876)" class="t">Our cal</text>
<text transform="translate(2019.76,179.10) scale(1.2293,0.9912)" class="t">Other cal.</text>
<text transform="translate(2214.83,169.05) scale(0.6897,0.8090)" class="t">[38]</text>
<text transform="translate(2019.70,225.29) scale(1.1986,0.9899)" class="t">Exp.</text>
<text transform="translate(2110.98,216.38) scale(0.6749,0.8211)" class="t">[39]</text>
<text transform="translate(810.06,762.10) scale(1.3402,1.0248)" class="t"><tspan font-style="italic">T</tspan></text>
<text transform="translate(840.70,770.79) scale(1.4727,1.4259)" class="t">/</text>
<text transform="translate(861.53,762.10) scale(1.0972,1.0210)" class="t">K</text>
<text transform="translate(1870.76,762.10) scale(1.3402,1.0248)" class="t"><tspan font-style="italic">T</tspan></text>
<text transform="translate(1901.40,770.79) scale(1.4727,1.4259)" class="t">/</text>
<text transform="translate(1922.23,762.10) scale(1.0972,1.0210)" class="t">K</text>
<text transform="translate(381.61,204.96) rotate(-90) scale(1.0049,1.0814)" class="t">)</text>
<text transform="translate(383.43,220.24) rotate(-90) scale(1.0154,0.9622)" class="t"><tspan font-size="28" dy="-15">1</tspan></text>
<text transform="translate(385.63,246.35) rotate(-90) scale(1.4038,0.9622)" class="t"><tspan font-size="28" dy="-15">−</tspan></text>
<text transform="translate(380.90,283.72) rotate(-90) scale(1.2183,1.0324)" class="t">K</text>
<text transform="translate(385.08,295.04) rotate(-90) scale(1.0324,1.0324)" class="t">·</text>
<text transform="translate(383.43,309.24) rotate(-90) scale(0.9744,0.9622)" class="t"><tspan font-size="28" dy="-15">1</tspan></text>
<text transform="translate(385.63,334.12) rotate(-90) scale(1.3736,0.9622)" class="t"><tspan font-size="28" dy="-15">−</tspan></text>
<text transform="translate(380.90,372.28) rotate(-90) scale(1.1731,0.8895)" class="t">m</text>
<text transform="translate(385.08,385.84) rotate(-90) scale(1.0324,1.0324)" class="t">·</text>
<text transform="translate(380.74,428.50) rotate(-90) scale(1.1258,1.0074)" class="t">W</text>
<text transform="translate(381.63,443.74) rotate(-90) scale(0.9951,1.0676)" class="t">(</text>
<text transform="translate(388.72,466.20) rotate(-90) scale(1.5818,1.3593)" class="t">/</text>
<text transform="translate(380.22,477.49) rotate(-90) scale(0.9778,0.9795)" class="t"><tspan font-size="28" dy="6">l</tspan></text>
<text transform="translate(381.00,501.14) rotate(-90) scale(1.1611,0.9189)" class="t"><tspan font-style="italic">κ</tspan></text>
<text transform="translate(1419.61,204.96) rotate(-90) scale(1.0049,1.0814)" class="t">)</text>
<text transform="translate(1421.43,220.24) rotate(-90) scale(1.0154,0.9622)" class="t"><tspan font-size="28" dy="-15">1</tspan></text>
<text transform="translate(1423.63,246.35) rotate(-90) scale(1.4038,0.9622)" class="t"><tspan font-size="28" dy="-15">−</tspan></text>
<text transform="translate(1418.90,283.72) rotate(-90) scale(1.2183,1.0324)" class="t">K</text>
<text transform="translate(1423.08,295.04) rotate(-90) scale(1.0324,1.0324)" class="t">·</text>
<text transform="translate(1421.43,309.24) rotate(-90) scale(0.9744,0.9622)" class="t"><tspan font-size="28" dy="-15">1</tspan></text>
<text transform="translate(1423.63,334.12) rotate(-90) scale(1.3736,0.9622)" class="t"><tspan font-size="28" dy="-15">−</tspan></text>
<text transform="translate(1418.90,372.28) rotate(-90) scale(1.1731,0.8895)" class="t">m</text>
<text transform="translate(1423.08,385.84) rotate(-90) scale(1.0324,1.0324)" class="t">·</text>
<text transform="translate(1418.74,428.50) rotate(-90) scale(1.1258,1.0074)" class="t">W</text>
<text transform="translate(1419.63,443.74) rotate(-90) scale(0.9951,1.0676)" class="t">(</text>
<text transform="translate(1426.72,466.20) rotate(-90) scale(1.5818,1.3593)" class="t">/</text>
<text transform="translate(1418.22,477.49) rotate(-90) scale(0.9778,0.9795)" class="t"><tspan font-size="28" dy="6">l</tspan></text>
<text transform="translate(1419.00,501.14) rotate(-90) scale(1.1611,0.9189)" class="t"><tspan font-style="italic">κ</tspan></text>
<line x1="967" y1="67" x2="1030" y2="67" stroke="#484848" stroke-width="2.8" stroke-linecap="round"/>
<line x1="967" y1="114.2" x2="1030" y2="114.2" stroke="#dc4242" stroke-width="2.8" stroke-linecap="round"/>
<line x1="1940.5" y1="119.8" x2="2003.5" y2="119.8" stroke="#484848" stroke-width="2.8" stroke-linecap="round"/>
<line x1="1940.5" y1="167" x2="2003.5" y2="167" stroke="#dc4242" stroke-width="2.8" stroke-linecap="round"/>
<rect x="1956" y="198.4" width="32" height="31.2" fill="#0000ff"/>
</svg>
</body></html>
